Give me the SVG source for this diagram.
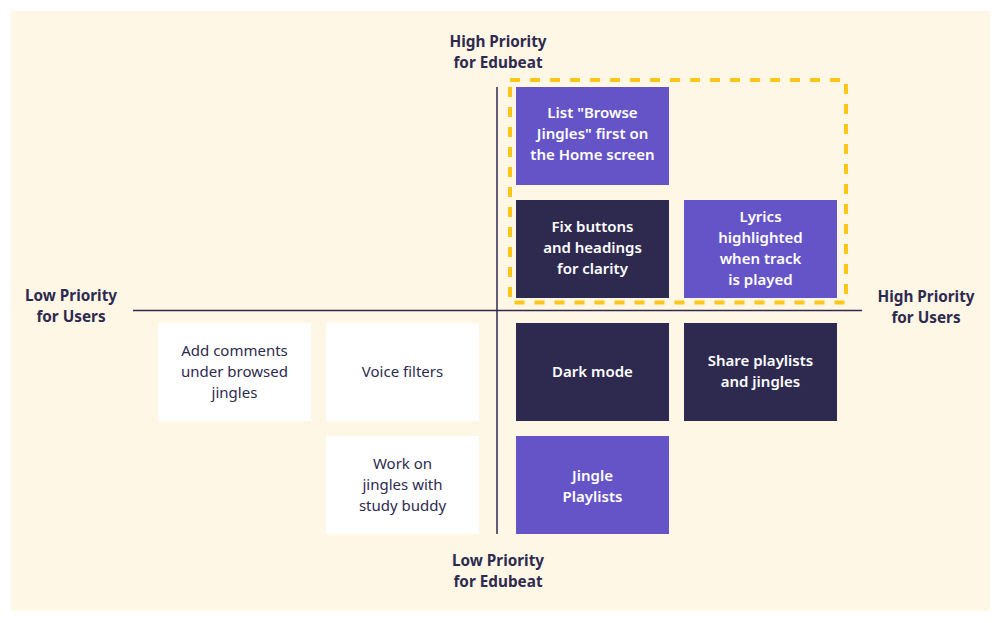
<svg xmlns="http://www.w3.org/2000/svg" width="1001" height="623" viewBox="0 0 1001 623">
<style>
text{font-family:"Noto Sans","Open Sans","Liberation Sans",sans-serif;font-size:15px;text-anchor:middle}
.lbl{fill:#2E2A4F;font-weight:700;font-size:15.3px}
.tw{fill:#FFFFFF;font-weight:600}
.td{fill:#2E2A4F;font-weight:400}
.p{fill:#6554C8}
.d{fill:#2E2A4F}
.w{fill:#FFFFFF}
.ax{stroke:#2E2A4F;stroke-width:1.5;fill:none}
</style>
<rect x="11" y="11" width="979" height="600" fill="#FFF7E6"/>
<g id="axes">
<line class="ax" x1="497" y1="87" x2="497" y2="534"/>
<line class="ax" x1="133" y1="310.5" x2="862" y2="310.5"/>
</g>
<g id="labels">
<text class="lbl" x="498" y="47">High Priority</text><text class="lbl" x="498" y="68">for Edubeat</text>
<text class="lbl" x="498" y="566">Low Priority</text><text class="lbl" x="498" y="587">for Edubeat</text>
<text class="lbl" x="71" y="301">Low Priority</text><text class="lbl" x="71" y="322">for Users</text>
<text class="lbl" x="926" y="302">High Priority</text><text class="lbl" x="926" y="323">for Users</text>
</g>
<g id="n1"><rect class="p" x="516" y="87" width="153" height="98"/><text class="tw" x="592.5" y="118">List "Browse</text><text class="tw" x="592.5" y="139">Jingles" first on</text><text class="tw" x="592.5" y="160">the Home screen</text></g>
<g id="n2"><rect class="d" x="516" y="200" width="153" height="98"/><text class="tw" x="592.5" y="232">Fix buttons</text><text class="tw" x="592.5" y="253">and headings</text><text class="tw" x="592.5" y="274">for clarity</text></g>
<g id="n3"><rect class="p" x="684" y="200" width="153" height="98"/><text class="tw" x="760.5" y="222">Lyrics</text><text class="tw" x="760.5" y="243">highlighted</text><text class="tw" x="760.5" y="264">when track</text><text class="tw" x="760.5" y="285">is played</text></g>
<g id="n4"><rect class="d" x="516" y="323" width="153" height="98"/><text class="tw" x="592.5" y="377">Dark mode</text></g>
<g id="n5"><rect class="d" x="684" y="323" width="153" height="98"/><text class="tw" x="760.5" y="366">Share playlists</text><text class="tw" x="760.5" y="387">and jingles</text></g>
<g id="n6"><rect class="p" x="516" y="436" width="153" height="98"/><text class="tw" x="592.5" y="481">Jingle</text><text class="tw" x="592.5" y="502">Playlists</text></g>
<g id="n7"><rect class="w" x="158" y="323" width="153" height="98"/><text class="td" x="234.5" y="356">Add comments</text><text class="td" x="234.5" y="377">under browsed</text><text class="td" x="234.5" y="398">jingles</text></g>
<g id="n8"><rect class="w" x="326" y="323" width="153" height="98"/><text class="td" x="402.5" y="377">Voice filters</text></g>
<g id="n9"><rect class="w" x="326" y="436" width="153" height="98"/><text class="td" x="402.5" y="469">Work on</text><text class="td" x="402.5" y="490">jingles with</text><text class="td" x="402.5" y="511">study buddy</text></g>
<g id="highlight"><rect x="510" y="80" width="336" height="222.5" fill="none" stroke="#FFC61A" stroke-width="4" stroke-dasharray="10 10"/></g>
</svg>
